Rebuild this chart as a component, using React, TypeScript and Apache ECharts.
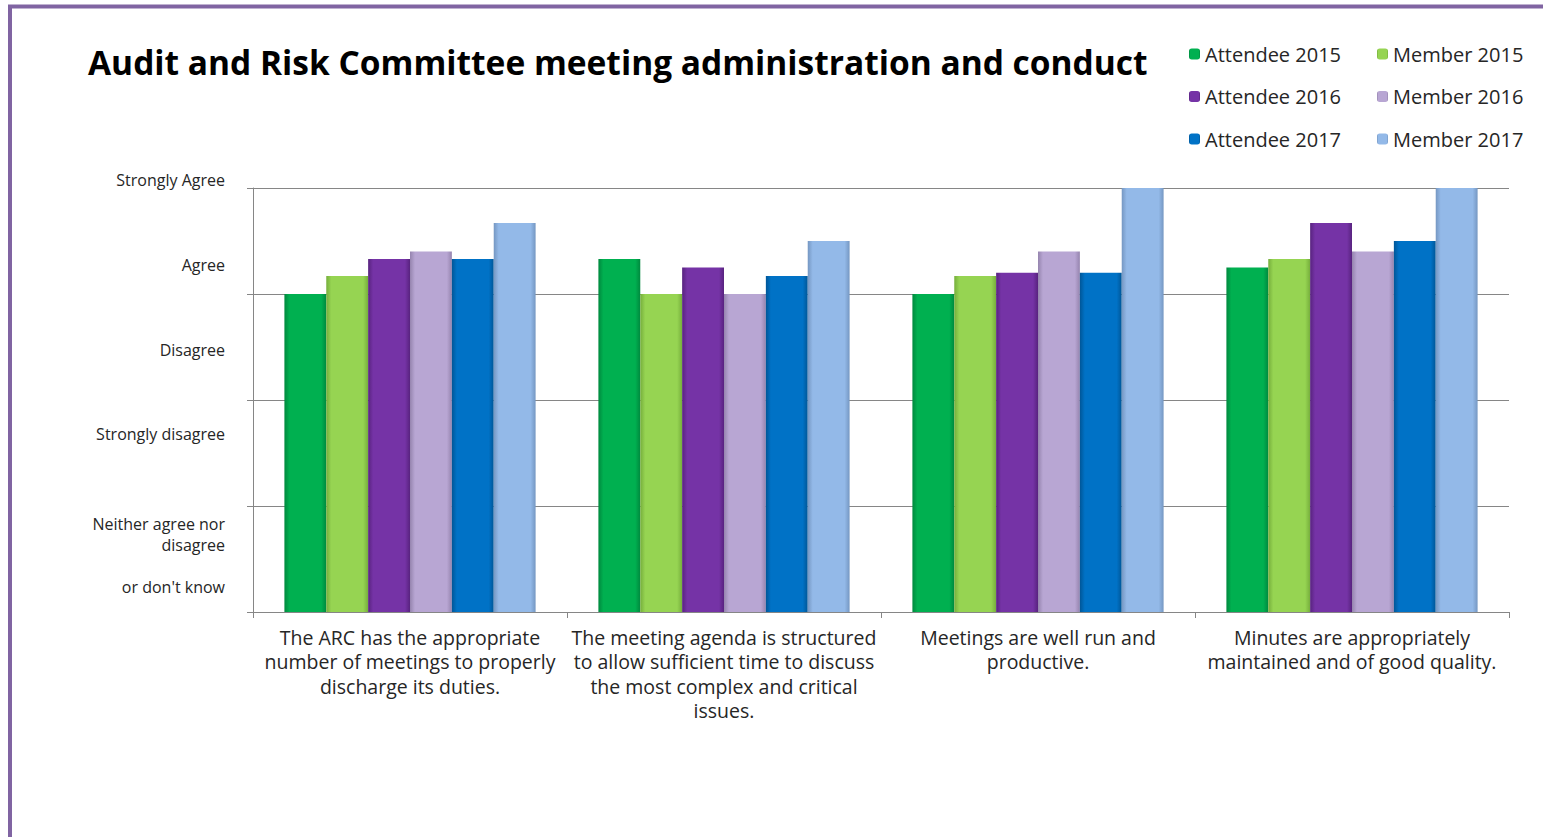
import React, { useEffect, useRef } from "react";
import * as echarts from "echarts";

const titleText = "Audit and Risk Committee meeting administration and conduct";

const categories = [
  "The ARC has the appropriate\nnumber of meetings to properly\ndischarge its duties.",
  "The meeting agenda is structured\nto allow sufficient time to discuss\nthe most complex and critical\nissues.",
  "Meetings are well run and\nproductive.",
  "Minutes are appropriately\nmaintained and of good quality.",
];

const seriesNames = [
  "Attendee 2015",
  "Member 2015",
  "Attendee 2016",
  "Member 2016",
  "Attendee 2017",
  "Member 2017",
];

const attendee2015 = [4.0, 4.33, 4.0, 4.25];
const member2015 = [4.17, 4.0, 4.17, 4.33];
const attendee2016 = [4.33, 4.25, 4.2, 4.67];
const member2016 = [4.4, 4.0, 4.4, 4.4];
const attendee2017 = [4.33, 4.17, 4.2, 4.5];
const member2017 = [4.67, 4.5, 5.0, 5.0];

const seriesValues = [attendee2015, member2015, attendee2016, member2016, attendee2017, member2017];

const baseColors = ["#00B050", "#96D452", "#7533A6", "#B8A6D3", "#0072C6", "#93B9E8"];
const edgeColors = ["#00893E", "#76AE3C", "#58237F", "#9584AE", "#005697", "#7597C2"];

// y-axis scale labels (label axis values 0..5)
const scaleLabels = [
  "{l|Neither agree nor}\n{l|disagree}\n{l| }\n{l|or don't know}\n{g| }",
  "",
  "Strongly disagree",
  "Disagree",
  "Agree",
  "Strongly Agree",
];

const FONT = "'Open Sans', 'DejaVu Sans', sans-serif";

export default function App() {
  const ref = useRef<HTMLDivElement>(null);

  useEffect(() => {
    document.body.style.margin = "0";
    const chart = echarts.init(ref.current!, null, { renderer: "svg" });

    const series = seriesNames.map((name, i) => ({
      name,
      type: "bar",
      data: seriesValues[i],
      barGap: "0%",
      barCategoryGap: "20%",
      yAxisIndex: 0,
      itemStyle: {
        color: new echarts.graphic.LinearGradient(0, 0, 1, 0, [
          { offset: 0, color: edgeColors[i] },
          { offset: 0.12, color: baseColors[i] },
          { offset: 0.88, color: baseColors[i] },
          { offset: 1, color: edgeColors[i] },
        ]),
      },
    }));

    const legendText = { fontFamily: FONT, fontSize: 20, color: "#262626", lineHeight: 22 };

    chart.setOption({
      animation: false,
      textStyle: { fontFamily: FONT },
      title: {
        text: titleText,
        left: 88,
        top: 40,
        padding: 0,
        textStyle: { fontFamily: FONT, fontSize: 33.5, lineHeight: 44, fontWeight: "bold", color: "#000000" },
      },
      graphic: [
        {
          type: "rect",
          shape: { x: 10, y: 6.5, width: 1700, height: 1000 },
          style: { fill: "none", stroke: "#8064A2", lineWidth: 4 },
          silent: true,
        },
      ],
      legend: [
        {
          data: [seriesNames[0], seriesNames[2], seriesNames[4]],
          orient: "vertical",
          left: 1189,
          top: 43,
          padding: 0,
          itemWidth: 11,
          itemHeight: 11,
          itemGap: 20.5,
          selectedMode: false,
          textStyle: legendText,
        },
        {
          data: [seriesNames[1], seriesNames[3], seriesNames[5]],
          orient: "vertical",
          left: 1377,
          top: 43,
          padding: 0,
          itemWidth: 11,
          itemHeight: 11,
          itemGap: 20.5,
          selectedMode: false,
          textStyle: legendText,
        },
      ],
      grid: { left: 253, right: 34, top: 188, bottom: 225, containLabel: false },
      xAxis: {
        type: "category",
        data: categories,
        axisLine: { show: true, lineStyle: { color: "#868686", width: 1 } },
        axisTick: { show: true, length: 6, lineStyle: { color: "#868686" } },
        axisLabel: {
          interval: 0,
          margin: 13,
          fontFamily: FONT,
          fontSize: 19.5,
          lineHeight: 24.5,
          color: "#262626",
        },
      },
      yAxis: [
        {
          type: "value",
          min: 1,
          max: 5,
          interval: 1,
          axisLine: { show: true, lineStyle: { color: "#868686", width: 1 } },
          axisTick: { show: true, length: 6, lineStyle: { color: "#868686" } },
          axisLabel: { show: false },
          splitLine: { show: true, lineStyle: { color: "#868686", width: 1 } },
        },
        {
          type: "value",
          position: "left",
          min: 0,
          max: 5,
          interval: 1,
          axisLine: { show: false },
          axisTick: { show: false },
          splitLine: { show: false },
          axisLabel: {
            show: true,
            margin: 28,
            align: "right",
            verticalAlign: "bottom",
            fontFamily: FONT,
            fontSize: 16,
            lineHeight: 16,
            color: "#262626",
            formatter: (v: number) => scaleLabels[Math.round(v)] ?? "",
            rich: {
              l: { fontFamily: FONT, fontSize: 16, lineHeight: 21, color: "#262626", align: "right" },
              g: { fontSize: 10, lineHeight: 15 },
            },
          },
        },
      ],
      series,
    });

    return () => chart.dispose();
  }, []);

  return <div ref={ref} style={{ width: 1543, height: 837 }} />;
}
